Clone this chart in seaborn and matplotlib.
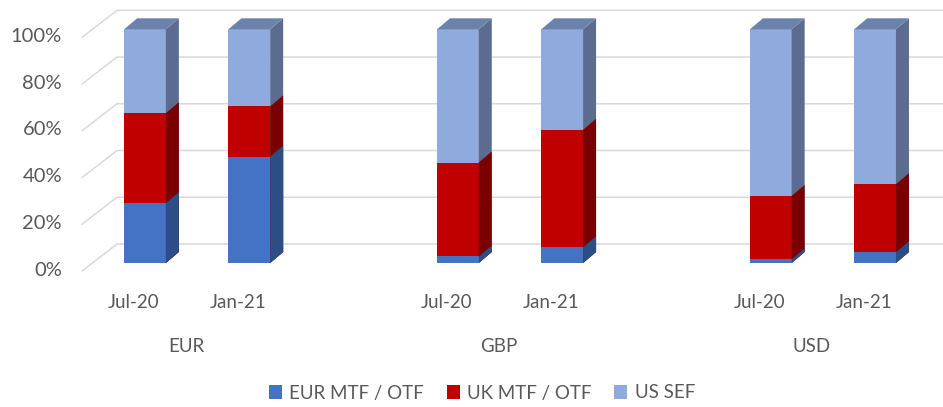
import numpy as np
import pandas as pd
import matplotlib
matplotlib.use("Agg")
import matplotlib.pyplot as plt
import seaborn as sns
from matplotlib.patches import Polygon, Patch
from matplotlib.lines import Line2D

# ---- data ----
groups = ["EUR", "GBP", "USD"]
periods = ["Jul-20", "Jan-21"]
series = ["EUR MTF / OTF", "UK MTF / OTF", "US SEF"]
eur_mtf = [0.256, 0.455, 0.028, 0.067, 0.016, 0.046]
uk_mtf = [0.385, 0.215, 0.402, 0.503, 0.271, 0.291]
us_sef = [1 - a - b for a, b in zip(eur_mtf, uk_mtf)]
yticks = [0, 0.2, 0.4, 0.6, 0.8, 1.0]
ytick_labels = ["0%", "20%", "40%", "60%", "80%", "100%"]

front_cols = ["#4472C4", "#C00000", "#8FAADC"]
side_cols = ["#2D4D86", "#7A0000", "#5B6C90"]
top_col = "#6B82AB"
txt = "#595959"

sns.set_theme(style="white")
plt.rcParams["font.family"] = ["Lato", "DejaVu Sans"]

W, H = 943, 407
fig = plt.figure(figsize=(W / 100, H / 100), dpi=100)
ax_left, ax_right, ax_top, ax_bot = 82, 943, 29.3, 263
ax = fig.add_axes([ax_left / W, (H - ax_bot) / H, (ax_right - ax_left) / W, (ax_bot - ax_top) / H])

# positions: groups separated by one empty slot
rows = []
for gi, g in enumerate(groups):
    for pi, p in enumerate(periods):
        k = gi * len(periods) + pi
        rows.append(dict(pos=gi * (len(periods) + 1) + pi, group=g, period=p,
                         eur=eur_mtf[k], uk=uk_mtf[k], us=us_sef[k]))
df = pd.DataFrame(rows)
df["c1"] = df["eur"]
df["c2"] = df["eur"] + df["uk"]
df["c3"] = df["eur"] + df["uk"] + df["us"]

px_per_x = 104.3
x0 = (ax_left - 145) / px_per_x
x1 = (ax_right - 145) / px_per_x
ax.set_xlim(x0, x1)
ax.set_ylim(0, 1)
px_per_y = ax_bot - ax_top

def dxu(px):
    return px / px_per_x

def dyu(px):
    return px / px_per_y

# stacked bars (cumulative, drawn top layer first)
for col, c in [("c3", front_cols[2]), ("c2", front_cols[1]), ("c1", front_cols[0])]:
    sns.barplot(data=df, x="pos", y=col, native_scale=True, width=0.4,
                color=c, saturation=1, ax=ax, errorbar=None, linewidth=0)

dX, dY = dxu(13), dyu(11)
layer_side = [side_cols[2], side_cols[1], side_cols[0]]
nb = len(df)
for li in range(3):
    for bi in range(nb):
        p = ax.patches[li * nb + bi]
        x, w, h = p.get_x(), p.get_width(), p.get_height()
        z = 2 + li * 0.1
        p.set_zorder(z)
        side = Polygon([(x + w, 0), (x + w + dX, dY), (x + w + dX, h + dY), (x + w, h)],
                       closed=True, facecolor=layer_side[li], edgecolor="none",
                       zorder=z, clip_on=False)
        ax.add_patch(side)
        if li == 0:
            top = Polygon([(x, h), (x + w, h), (x + w + dX, h + dY), (x + dX, h + dY)],
                          closed=True, facecolor=top_col, edgecolor="none",
                          zorder=z, clip_on=False)
            ax.add_patch(top)

# gridlines on back wall with diagonal to front
for v in yticks:
    ax.add_line(Line2D([x0, x0 + dxu(35), x1], [v - dyu(8), v + dyu(19), v + dyu(19)],
                       color="#D9D9D9", lw=1.1, zorder=0, clip_on=False))

ax.set_xticks([])
ax.set_yticks([])
ax.set_xlabel("")
ax.set_ylabel("")
for s in ax.spines.values():
    s.set_visible(False)

for v, lab in zip(yticks, ytick_labels):
    ax.annotate(lab, xy=(x0, v), xycoords="data", xytext=(-20 * 0.72, -7 * 0.72),
                textcoords="offset points", ha="right", va="center",
                fontsize=14.5, color=txt)

for _, r in df.iterrows():
    ax.annotate(r["period"], xy=(r["pos"], 0), xycoords="data",
                xytext=(-11 * 0.72, -39 * 0.72), textcoords="offset points",
                ha="center", va="center", fontsize=13.5, color=txt)
for g, sub in df.groupby("group", sort=False):
    ax.annotate(g, xy=(sub["pos"].mean(), 0), xycoords="data",
                xytext=(-11 * 0.72, -84 * 0.72), textcoords="offset points",
                ha="center", va="center", fontsize=13.5, color=txt)

handles = [Patch(facecolor=c, edgecolor="none") for c in front_cols]
leg = fig.legend(handles, series, loc="center", bbox_to_anchor=(482 / W, (H - 393) / H),
                 ncol=3, frameon=False, fontsize=13.5, handlelength=0.7, handleheight=0.7,
                 handletextpad=0.4, columnspacing=1.2, labelcolor=txt)

fig.savefig("out.png", dpi=100, facecolor="white")
